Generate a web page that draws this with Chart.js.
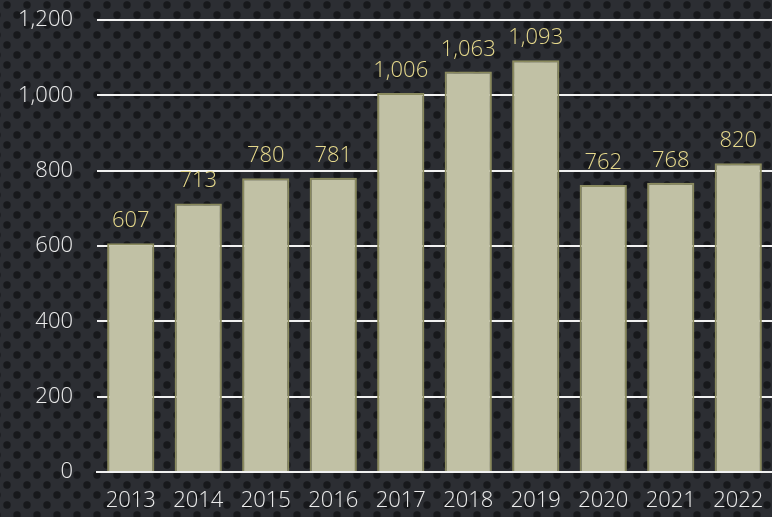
<!DOCTYPE html>
<html>
<head>
<meta charset="utf-8">
<script src="https://cdn.jsdelivr.net/npm/chart.js@4/dist/chart.umd.min.js"></script>
<style>
  html, body { margin: 0; padding: 0; background: #2b2d31; }
  #wrap { width: 772px; height: 517px; }
</style>
</head>
<body>
<div id="wrap"><canvas id="barChart" width="772" height="517"></canvas></div>
<script>
// chart data
const years = ["2013", "2014", "2015", "2016", "2017", "2018", "2019", "2020", "2021", "2022"];
const counts = [607, 713, 780, 781, 1006, 1063, 1093, 762, 768, 820];
const yTicks = [0, 200, 400, 600, 800, 1000, 1200];

const fontFamily = "'Open Sans', 'DejaVu Sans', sans-serif";

// dotted dark backdrop
function makePattern(ctx) {
  const tile = document.createElement("canvas");
  tile.width = 20;
  tile.height = 20;
  const t = tile.getContext("2d");
  t.fillStyle = "#2c2e33";
  t.fillRect(0, 0, 20, 20);
  t.fillStyle = "#17181b";
  const dots = [[0, 0], [20, 0], [0, 20], [20, 20], [10, 10]];
  dots.forEach(([x, y]) => {
    t.beginPath();
    t.arc(x, y, 3.7, 0, Math.PI * 2);
    t.fill();
  });
  return ctx.createPattern(tile, "repeat");
}

const backdrop = {
  id: "backdrop",
  beforeDraw(chart) {
    const ctx = chart.ctx;
    ctx.save();
    ctx.translate(7, 5);
    ctx.fillStyle = makePattern(ctx);
    ctx.fillRect(-7, -5, chart.width, chart.height);
    ctx.restore();
  }
};

// value labels above each bar
const valueLabels = {
  id: "valueLabels",
  afterDatasetsDraw(chart) {
    const ctx = chart.ctx;
    const meta = chart.getDatasetMeta(0);
    ctx.save();
    ctx.font = "300 22px " + fontFamily;
    ctx.fillStyle = "#e6d98c";
    ctx.textAlign = "center";
    ctx.textBaseline = "alphabetic";
    meta.data.forEach((bar, i) => {
      ctx.fillText(counts[i].toLocaleString("en-US"), bar.x, bar.y - 16);
    });
    ctx.restore();
  }
};

const ctx = document.getElementById("barChart").getContext("2d");
new Chart(ctx, {
  type: "bar",
  data: {
    labels: years,
    datasets: [{
      data: counts,
      backgroundColor: "#c1c1a5",
      borderColor: "#8a8a5e",
      borderWidth: 2,
      categoryPercentage: 1,
      barPercentage: 0.7
    }]
  },
  options: {
    responsive: false,
    animation: false,
    layout: { padding: { top: 20, right: 0, left: 0, bottom: 0 } },
    plugins: {
      legend: { display: false },
      tooltip: { enabled: false }
    },
    scales: {
      x: {
        grid: { display: false },
        border: { color: "#f2f2f2", width: 2 },
        ticks: {
          color: "#ececec",
          padding: 8,
          maxRotation: 0,
          font: { family: fontFamily, size: 22, weight: 300 }
        },
        afterFit(scale) {
          scale.height = 45;
          scale.paddingLeft = 0;
          scale.paddingRight = 0;
        }
      },
      y: {
        min: 0,
        max: 1200,
        afterBuildTicks(scale) { scale.ticks = yTicks.map(v => ({ value: v })); },
        grid: { color: "#f2f2f2", lineWidth: 2, drawTicks: false },
        border: { display: false },
        ticks: {
          color: "#ececec",
          padding: 24,
          font: { family: fontFamily, size: 22, weight: 300 },
          callback: v => v.toLocaleString("en-US")
        },
        afterFit(scale) {
          scale.width = 97;
          scale.paddingTop = 0;
          scale.paddingBottom = 0;
        }
      }
    }
  },
  plugins: [backdrop, valueLabels]
});
</script>
</body>
</html>
